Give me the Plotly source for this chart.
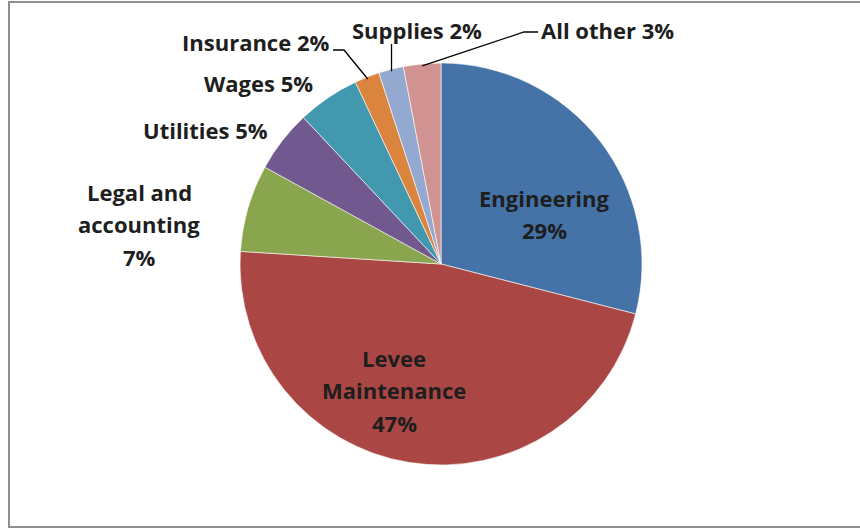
import math
import plotly.graph_objects as go

# Budget shares by expense category (percent)
categories = ["Engineering", "Levee Maintenance", "Legal and accounting", "Utilities",
              "Wages", "Insurance", "Supplies", "All other"]
shares = [29, 47, 7, 5, 5, 2, 2, 3]
colors = ["#4572A7", "#AA4643", "#89A54E", "#71588F",
          "#4198AF", "#DB843D", "#93A9CF", "#D19392"]

W, H = 860, 529
CX, CY, R = 441, 264, 201          # pie centre and radius in pixels
LINE_H = 32.5                      # label line spacing in pixels
FONT = dict(family="Open Sans", size=22, color="#1e1e1e", weight="bold")

def px(x):
    return x / W

def py(y):
    return 1 - y / H

# How each label is broken into lines
line_breaks = {
    "Engineering": ["Engineering", "{p}"],
    "Levee Maintenance": ["Levee", "Maintenance", "{p}"],
    "Legal and accounting": ["Legal and", "accounting", "{p}"],
}
# Label block centres (pixels)
label_pos = {
    "Engineering": (544, 214),
    "Levee Maintenance": (394, 390),
    "Legal and accounting": (139, 224),
    "Utilities": (205, 130),
    "Wages": (258, 83),
    "Insurance": (255, 42),
    "Supplies": (417, 30),
    "All other": (607, 30),
}

fig = go.Figure(go.Pie(
    labels=categories,
    values=shares,
    sort=False,
    direction="clockwise",
    rotation=0,
    marker=dict(colors=colors, line=dict(color="rgba(255,255,255,0.75)", width=0.8)),
    textinfo="none",
    hoverinfo="skip",
    showlegend=False,
    domain=dict(x=[px(CX - R), px(CX + R)], y=[py(CY + R), py(CY - R)]),
))

annotations = []
for name, val in zip(categories, shares):
    pct = f"{val}%"
    lines = [s.format(p=pct) for s in line_breaks.get(name, [f"{name} {pct}"])]
    cx, cy = label_pos[name]
    n = len(lines)
    for i, line in enumerate(lines):
        ly = cy + (i - (n - 1) / 2) * LINE_H
        annotations.append(dict(
            x=px(cx), y=py(ly), xref="paper", yref="paper",
            text=line, showarrow=False, font=FONT,
            xanchor="center", yanchor="middle",
        ))

# Edge point at the middle of a slice
total = sum(shares)
cum = 0
anchors = {}
for name, val in zip(categories, shares):
    mid = (cum + val / 2) / total * 2 * math.pi
    anchors[name] = (CX + R * 0.99 * math.sin(mid), CY - R * 0.99 * math.cos(mid))
    cum += val

def path(points):
    d = "M " + " L ".join(f"{px(x)},{py(y)}" for x, y in points)
    return dict(type="path", path=d, xref="paper", yref="paper",
                line=dict(color="#000000", width=1.3))

ax, ay = anchors["Insurance"]
s1 = path([(333, 50), (344, 50), (ax, ay)])
ax, ay = anchors["Supplies"]
s2 = path([(ax, 44), (ax, ay)])
ax, ay = anchors["All other"]
s3 = path([(538, 32), (524, 32), (ax, ay)])

frame = dict(type="rect", xref="paper", yref="paper",
             x0=px(9), x1=px(900), y0=py(527), y1=py(2),
             line=dict(color="#8f8f8f", width=2))

fig.update_layout(
    width=W, height=H,
    margin=dict(l=0, r=0, t=0, b=0),
    paper_bgcolor="white",
    plot_bgcolor="white",
    annotations=annotations,
    shapes=[s1, s2, s3, frame],
)

fig.write_html("out.html")
